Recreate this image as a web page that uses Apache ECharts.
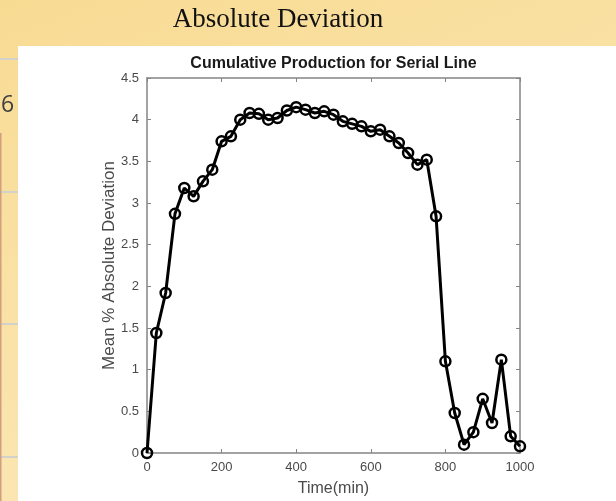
<!DOCTYPE html>
<html>
<head>
<meta charset="utf-8">
<script src="https://cdn.jsdelivr.net/npm/echarts@6/dist/echarts.min.js"></script>
<style>
html,body{margin:0;padding:0;background:#fff;}
#chart{width:616px;height:501px;}
</style>
</head>
<body>
<div id="chart"></div>
<script>
// ---- data ----
var slideTitle = 'Absolute Deviation';
var chartTitle = 'Cumulative Production for Serial Line';
var xAxisName = 'Time(min)';
var yAxisName = 'Mean % Absolute Deviation';
var times = [0, 25, 50, 75, 100, 125, 150, 175, 200, 225, 250, 275, 300, 325, 350, 375, 400,
  425, 450, 475, 500, 525, 550, 575, 600, 625, 650, 675, 700, 725, 750, 775, 800, 825, 850,
  875, 900, 925, 950, 975, 1000];
var deviation = [0, 1.44, 1.92, 2.87, 3.18, 3.08, 3.26, 3.40, 3.74, 3.80, 4.00, 4.08, 4.07,
  4.00, 4.02, 4.11, 4.15, 4.12, 4.08, 4.10, 4.06, 3.98, 3.95, 3.92, 3.86, 3.88, 3.80, 3.72,
  3.60, 3.46, 3.52, 2.84, 1.10, 0.48, 0.10, 0.25, 0.65, 0.36, 1.12, 0.20, 0.08];
var xTicks = [0, 200, 400, 600, 800, 1000];
var yTicks = [0, 0.5, 1, 1.5, 2, 2.5, 3, 3.5, 4, 4.5];
var sideNumber = '6';

var seriesData = times.map(function (t, i) { return [t, deviation[i]]; });

var chart = echarts.init(document.getElementById('chart'), null, {renderer: 'canvas'});
var axisColor = '#858585';
var labelColor = '#4a4a4a';
var baseFont = '"Liberation Sans", Arial, sans-serif';

function mainAxis(pos, min, max, interval, showLabel, name, nameGap, nameSize) {
  return {
    type: 'value', position: pos, min: min, max: max, interval: interval,
    name: name || '', nameLocation: 'middle', nameGap: nameGap || 0,
    nameMoveOverlap: false,
    nameTextStyle: {color: labelColor, fontSize: nameSize || 16, fontFamily: baseFont},
    axisLine: {show: true, onZero: false, lineStyle: {color: axisColor, width: 1.5}},
    axisTick: {show: true, inside: true, length: 4, lineStyle: {color: axisColor, width: 1}},
    axisLabel: {show: showLabel, color: labelColor, fontSize: 13, fontFamily: baseFont, margin: 8,
      formatter: function (v) { return String(v); }},
    splitLine: {show: false}
  };
}

var stripLines = [59, 192, 324, 457].map(function (y) {
  return {type: 'rect', z: -8, shape: {x: 0, y: y - 1, width: 18, height: 2}, style: {fill: '#d3d1cc'}};
});

chart.setOption({
  animation: false,
  backgroundColor: '#ffffff',
  graphic: [
    {type: 'rect', z: -10, shape: {x: 0, y: 0, width: 616, height: 501},
      style: {fill: new echarts.graphic.LinearGradient(0, 0, 0.3, 1, [
        {offset: 0, color: '#f8db93'}, {offset: 1, color: '#fbe7b6'}])}},
    {type: 'rect', z: -9, shape: {x: 18, y: 46, width: 598, height: 455}, style: {fill: '#ffffff'}}
  ].concat(stripLines).concat([
    {type: 'rect', z: -8, shape: {x: 0, y: 133, width: 1.5, height: 368}, style: {fill: '#d29e7c'}},
    {type: 'text', z: 5, x: 1, y: 105, style: {text: sideNumber, fill: '#3f3f3f',
      font: '23px "Open Sans", "Liberation Sans", sans-serif', verticalAlign: 'middle', align: 'left'}},
    {type: 'text', z: 5, x: 278, y: 20, style: {text: slideTitle, fill: '#111111',
      font: '27px "Liberation Serif", "Times New Roman", serif', align: 'center', verticalAlign: 'middle'}},
    {type: 'text', z: 5, x: 333.5, y: 64, style: {text: chartTitle, fill: '#1a1a1a',
      font: 'bold 16px "Liberation Sans", Arial, sans-serif', align: 'center', verticalAlign: 'middle'}}
  ]),
  grid: {left: 147, top: 78, right: 96, bottom: 48, containLabel: false, outerBoundsMode: 'none'},
  xAxis: [
    mainAxis('bottom', xTicks[0], xTicks[xTicks.length - 1], xTicks[1] - xTicks[0], true, xAxisName, 28, 16),
    mainAxis('top', xTicks[0], xTicks[xTicks.length - 1], xTicks[1] - xTicks[0], false)
  ],
  yAxis: [
    mainAxis('left', yTicks[0], yTicks[yTicks.length - 1], yTicks[1] - yTicks[0], true, yAxisName, 29, 17),
    mainAxis('right', yTicks[0], yTicks[yTicks.length - 1], yTicks[1] - yTicks[0], false)
  ],
  series: [{
    type: 'line',
    xAxisIndex: 0, yAxisIndex: 0,
    data: seriesData,
    symbol: 'circle',
    symbolSize: 10,
    showAllSymbol: true,
    lineStyle: {color: '#000000', width: 3},
    itemStyle: {color: 'rgba(255,255,255,0)', borderColor: '#000000', borderWidth: 2.5},
    emphasis: {disabled: true},
    z: 3
  }]
});
</script>
</body>
</html>
